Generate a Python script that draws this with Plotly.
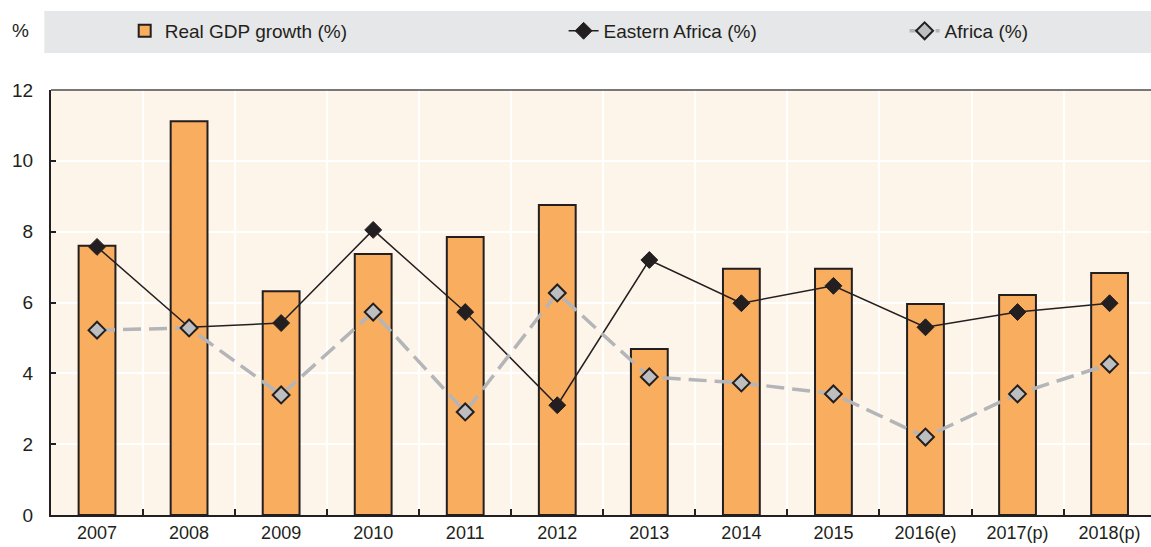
import plotly.graph_objects as go

categories = ["2007", "2008", "2009", "2010", "2011", "2012", "2013", "2014", "2015", "2016(e)", "2017(p)", "2018(p)"]
real_gdp = [7.6, 11.12, 6.32, 7.37, 7.85, 8.75, 4.69, 6.95, 6.95, 5.96, 6.21, 6.83]
eastern_africa = [7.57, 5.3, 5.42, 8.05, 5.73, 3.1, 7.2, 5.98, 6.47, 5.3, 5.73, 5.98]
africa = [5.22, 5.28, 3.39, 5.73, 2.91, 6.27, 3.9, 3.73, 3.42, 2.2, 3.42, 4.26]
y_ticks = [0, 2, 4, 6, 8, 10, 12]

FONT = "Liberation Sans Narrow, Arial Narrow, Liberation Sans, sans-serif"
DARK = "#231F20"

fig = go.Figure()
fig.add_trace(go.Bar(
    x=categories, y=real_gdp, name="Real GDP growth (%)", width=0.4,
    marker=dict(color="#F9AD5F", line=dict(color=DARK, width=2)),
    legend="legend", showlegend=True,
))
fig.add_trace(go.Scatter(
    x=categories, y=eastern_africa, name="Eastern Africa (%)", mode="lines+markers",
    line=dict(color=DARK, width=1.5),
    marker=dict(symbol="diamond", size=13, color=DARK, line=dict(color=DARK, width=1)),
    legend="legend2", showlegend=True,
))
fig.add_trace(go.Scatter(
    x=categories, y=africa, name="Africa (%)", mode="lines+markers",
    line=dict(color="#B4B5B8", width=3.5, dash="18px,8px"),
    marker=dict(symbol="diamond", size=13, color="#BDBEC0", line=dict(color=DARK, width=2)),
    legend="legend3", showlegend=True,
))

leg_common = dict(orientation="h", yanchor="middle", y=1.139, xanchor="left",
                  bgcolor="rgba(0,0,0,0)", font=dict(family=FONT, size=19, color=DARK))
fig.update_layout(
    width=1151, height=547,
    margin=dict(l=51, r=0, t=90, b=32, autoexpand=False),
    paper_bgcolor="white", plot_bgcolor="#FDF5EA",
    font=dict(family=FONT, size=19, color=DARK),
    showlegend=True,
    bargap=0.6,
    legend=dict(x=0.067, **leg_common),
    legend2=dict(x=0.466, **leg_common),
    legend3=dict(x=0.776, **leg_common),
    xaxis=dict(
        type="category", range=[-0.5, 11.45], tickson="boundaries",
        ticks="inside", ticklen=6, tickcolor=DARK, tickwidth=1.5,
        showgrid=True, gridcolor="white", gridwidth=2,
        showline=True, linecolor=DARK, linewidth=2,
        tickfont=dict(family=FONT, size=18, color=DARK),
    ),
    yaxis=dict(
        range=[0, 12], tickvals=y_ticks,
        ticks="inside", ticklen=5, tickcolor=DARK, tickwidth=1.5,
        showgrid=True, gridcolor="white", gridwidth=2, zeroline=False,
        showline=True, linecolor=DARK, linewidth=2,
        tickfont=dict(family=FONT, size=19, color=DARK),
        ticklabelstandoff=12,
    ),
    shapes=[
        dict(type="rect", xref="paper", yref="paper", x0=-0.006, x1=1.0, y0=1.087, y1=1.186,
             fillcolor="#E6E7E8", line=dict(width=0), layer="below"),
        dict(type="line", xref="paper", yref="paper", x0=0, x1=1, y0=1, y1=1,
             line=dict(color="#4D4D4F", width=1.5)),
    ],
    annotations=[
        dict(text="%", xref="paper", yref="paper", x=-0.028, y=1.139, xanchor="center", yanchor="middle",
             showarrow=False, font=dict(family=FONT, size=19, color=DARK)),
    ],
)

fig.write_html("out.html", config={"displayModeBar": False},
               post_script="document.body.style.margin='0';document.body.style.overflow='hidden';")
